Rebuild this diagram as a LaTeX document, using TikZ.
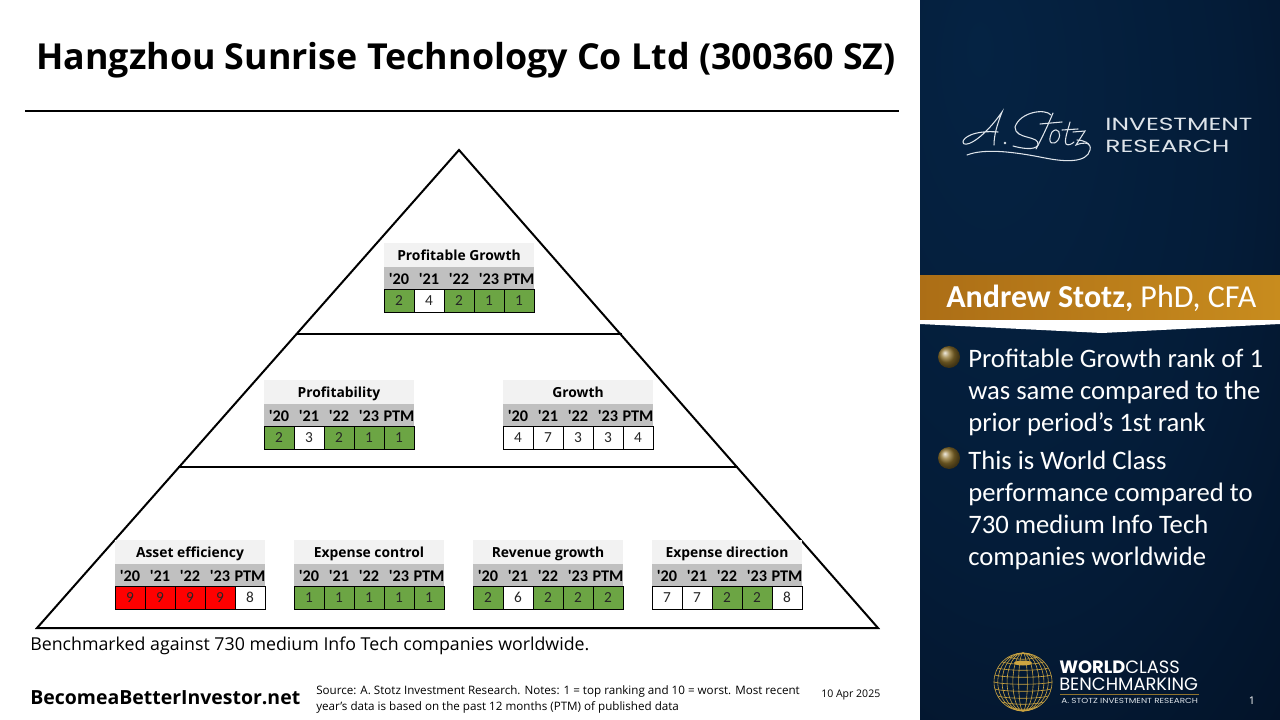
\documentclass[tikz,border=0pt]{standalone}
\usepackage{fontspec}
\setmainfont{Open Sans}
\newfontfamily\calfont{Carlito}
\newfontfamily\logofont{Poppins}
\usetikzlibrary{calc,positioning,shadings}
\definecolor{goldl}{RGB}{172,110,22}
\definecolor{goldr}{RGB}{200,140,30}
\definecolor{globegold}{RGB}{205,165,65}
\definecolor{tabgreen}{RGB}{108,165,68}
\definecolor{tabred}{RGB}{255,0,0}
\definecolor{tabwhite}{RGB}{255,255,255}
\definecolor{titlegrey}{RGB}{242,242,242}
\definecolor{headgrey}{RGB}{192,192,192}
\definecolor{inkdark}{RGB}{38,38,38}
\definecolor{signwhite}{RGB}{222,228,234}
\pgfdeclareradialshading{panelglow}{\pgfpoint{-17bp}{22bp}}{
	rgb(0bp)=(0.020,0.137,0.263);
	rgb(30bp)=(0.016,0.110,0.220);
	rgb(48bp)=(0.012,0.078,0.165);
	rgb(62bp)=(0.006,0.040,0.100);
	rgb(100bp)=(0.004,0.024,0.071)}
\tikzset{
	titlecell/.style={fill=titlegrey,minimum width=112.5pt,minimum height=18pt,inner sep=0pt,text height=8.5pt,text depth=1pt,text=black,font=\fontsize{10.4}{12}\selectfont\bfseries},
	headcell/.style={fill=headgrey,minimum width=22.5pt,minimum height=16.5pt,inner sep=0pt,text height=9.5pt,text depth=0pt,text=black,font=\calfont\fontsize{12.2}{14}\selectfont\bfseries},
	rankcell/.style={draw=black,line width=0.7pt,minimum width=22.5pt,minimum height=17.25pt,inner sep=0pt,text=inkdark,font=\calfont\fontsize{11.5}{13}\selectfont},
	sidetext/.style={text=white,anchor=north west,align=left,inner sep=0pt,font=\calfont\fontsize{20}{24}\selectfont},
	bulletball/.style={circle,minimum size=16.5pt,inner sep=0pt,ball color=globegold!70!black},
	signline/.style={draw=signwhite,line width=0.8pt,line cap=round},
	globeline/.style={draw=globegold,line width=0.45pt},
	pyramidline/.style={draw=black,line width=1.5pt}
}
% one block of the pyramid: name, left x, top y, title, values/colours
\newcommand{\rankblock}[5]{
	\node[titlecell] (#1-title) at (#2+75,#3+12) {#4};
	\foreach \yr [count=\i] in {'20,'21,'22,'23,PTM} {
		\node[headcell] (#1-head\i) at (#2+\i*30-15,#3+35) {\yr};
	}
	\foreach \val/\col [count=\i] in {#5} {
		\node[rankcell,fill=\col] (#1-cell\i) at (#2+\i*30-15,#3+57.5) {\val};
	}
}
\begin{document}
\begin{tikzpicture}[x=0.75pt,y=-0.75pt]
	\useasboundingbox (0,0) rectangle (1280,720);
	\fill[white] (0,0) rectangle (920,720);
	\shade[shading=panelglow] (920,0) rectangle (1280,720);

	\node[anchor=west,inner sep=0pt,font=\fontsize{26.85}{32}\selectfont\bfseries] (maintitle) at (36,60) {Hangzhou Sunrise Technology Co Ltd (300360 SZ)};
	\coordinate (ruleL) at (25,111);
	\coordinate (ruleR) at (899,111);
	\draw[draw=black,line width=1pt] (ruleL) -- (ruleR);

	\coordinate (apex) at (459,150);
	\coordinate (baseL) at (37,628);
	\coordinate (baseR) at (878,628);
	\coordinate (upL) at (297,334);
	\coordinate (upR) at (622,334);
	\coordinate (midL) at (178,467);
	\coordinate (midR) at (738,467);
	\draw[pyramidline] (apex) -- (baseR) -- (baseL) -- cycle;
	\draw[pyramidline] (upL) -- (upR);
	\draw[pyramidline] (midL) -- (midR);

	\rankblock{growthtop}{384}{243}{Profitable Growth}{2/tabgreen,4/tabwhite,2/tabgreen,1/tabgreen,1/tabgreen}
	\rankblock{profit}{264}{380}{Profitability}{2/tabgreen,3/tabwhite,2/tabgreen,1/tabgreen,1/tabgreen}
	\rankblock{growth}{503}{380}{Growth}{4/tabwhite,7/tabwhite,3/tabwhite,3/tabwhite,4/tabwhite}
	\rankblock{asset}{115}{540}{Asset efficiency}{9/tabred,9/tabred,9/tabred,9/tabred,8/tabwhite}
	\rankblock{expense}{294}{540}{Expense control}{1/tabgreen,1/tabgreen,1/tabgreen,1/tabgreen,1/tabgreen}
	\rankblock{revenue}{473}{540}{Revenue growth}{2/tabgreen,6/tabwhite,2/tabgreen,2/tabgreen,2/tabgreen}
	\rankblock{direction}{652}{540}{Expense direction}{7/tabwhite,7/tabwhite,2/tabgreen,2/tabgreen,8/tabwhite}

	\node[anchor=west,inner sep=0pt,font=\fontsize{13.33}{16}\selectfont] (benchnote) at (30,646) {Benchmarked against 730 medium Info Tech companies worldwide.};
	\node[anchor=west,inner sep=0pt,font=\fontsize{14.6}{18}\selectfont\bfseries] (website) at (30,698) {BecomeaBetterInvestor.net};
	\node[anchor=north west,align=left,inner sep=0pt,font=\fontsize{8.72}{12}\selectfont] (sourcenote) at (316,685) {Source: A. Stotz Investment Research. Notes: 1 = top ranking and 10 = worst. Most recent\\year's data is based on the past 12 months (PTM) of published data};
	\node[anchor=west,inner sep=0pt,font=\fontsize{7.9}{10}\selectfont] (datenote) at (821,695) {10 Apr 2025};

	\draw[signline] (998,132) .. controls (973,130) and (963,138) .. (963,142) .. controls (963,148) and (980,143) .. (1002,112) .. controls (997,125) and (994,135) .. (994,145);
	\fill[signwhite] (1005,143) circle (1.3);
	\draw[signline] (1051,115) .. controls (1045,108) and (1020,112) .. (1015,127) .. controls (1015,140) and (1040,135) .. (1038,145) .. controls (1035,151) and (1020,148) .. (1013,146);
	\draw[signline] (1053,113) .. controls (1048,125) and (1042,138) .. (1036,149);
	\draw[signline] (1040,124) -- (1062,122);
	\draw[signline] (1052,132) .. controls (1058,126) and (1062,134) .. (1058,140) .. controls (1054,146) and (1046,144) .. (1052,132);
	\draw[signline] (1070,122) .. controls (1068,130) and (1064,140) .. (1066,144) .. controls (1068,146) and (1072,144) .. (1074,142);
	\draw[signline] (1062,130) -- (1078,129);
	\draw[signline] (1073,132) -- (1085,131) -- (1076,145) .. controls (1082,142) and (1090,143) .. (1089,145);
	\draw[signline] (967,155) .. controls (985,148) and (1015,152) .. (1045,158) .. controls (1065,162) and (1087,163) .. (1090,150) .. controls (1092,143) and (1083,140) .. (1077,140);

	\node[anchor=west,inner sep=0pt,text=signwhite,align=left,xscale=1.42,font=\logofont\fontsize{13.2}{16.5}\selectfont] (brandtext) at (1105,135) {INVESTMENT\\RESEARCH};

	\fill[left color=goldl,right color=goldr] (920,275) rectangle (1280,320);
	\coordinate (chevL) at (920,320);
	\coordinate (chevR) at (1280,320);
	\coordinate (chevB) at (1102,333);
	\fill[white] (chevL) -- (chevR) -- (1280,324) -- (chevB) -- (920,324) -- cycle;
	\node[anchor=west,inner sep=0pt,text=white,font=\calfont\fontsize{24}{28}\selectfont] (speaker) at (946,298) {\textbf{Andrew Stotz,} PhD, CFA};

	\node[bulletball] (ballone) at (949,357) {};
	\node[bulletball] (balltwo) at (949,458) {};
	\node[sidetext] (pointone) at (968,349) {Profitable Growth rank of 1\\was same compared to the\\prior period’s 1st rank};
	\node[sidetext] (pointtwo) at (968,451) {This is World Class\\performance compared to\\730 medium Info Tech\\companies worldwide};

	\coordinate (globe) at (1023,682);
	\foreach \w in {0.15,0.35,0.55,0.72,0.87,1} {
		\draw[globeline] (globe) ellipse ({29*\w} and 29);
	}
	\foreach \h in {-25,-20,-14,-7,0,7,14,20,25} {
		\draw[globeline] ($(globe)+(-{sqrt(841-\h*\h)},\h)$) .. controls +(10,3) and +(-10,3) .. ($(globe)+({sqrt(841-\h*\h)},\h)$);
	}
	\fill[globegold] (1023,663) ellipse (9 and 2.5);

	\node[anchor=west,inner sep=0pt,text=white,font=\logofont\fontsize{13.4}{15}\selectfont] (worldclass) at (1059,667) {\textbf{WORLD}CLASS};
	\node[anchor=west,inner sep=0pt,text=white,font=\logofont\fontsize{13.4}{15}\selectfont] (benchmark) at (1059,684) {BENCHMARKING};
	\coordinate (logoL) at (1060,694);
	\coordinate (logoR) at (1199,694);
	\draw[draw=globegold!70!black,line width=0.4pt] (logoL) -- (logoR);
	\node[anchor=west,inner sep=0pt,text=signwhite,xscale=1.2,font=\logofont\fontsize{5.5}{6.5}\selectfont] (logosub) at (1061,701) {A. STOTZ INVESTMENT RESEARCH};
	\node[inner sep=0pt,text=white,font=\fontsize{8}{10}\selectfont] (pagenum) at (1252,701) {1};
\end{tikzpicture}
\end{document}
